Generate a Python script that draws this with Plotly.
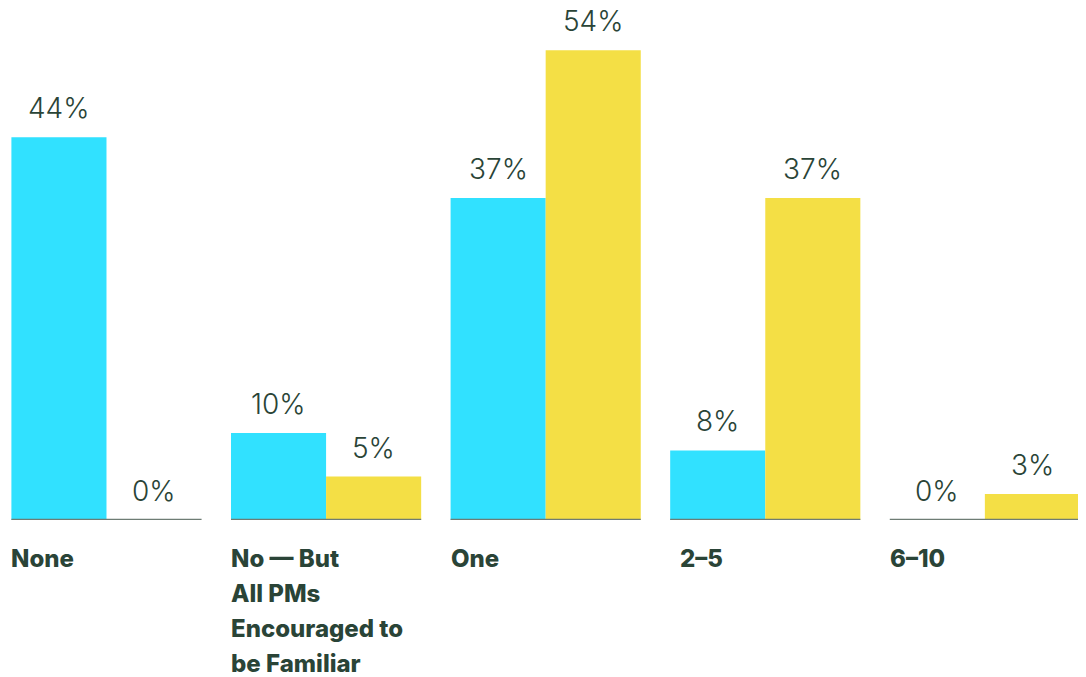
import plotly.graph_objects as go

categories = ["None", "No — But<br>All PMs<br>Encouraged to<br>be Familiar", "One", "2–5", "6–10"]
series_a = [44, 10, 37, 8, 0]
series_b = [0, 5, 54, 37, 3]

CYAN = "#31E1FF"
YELLOW = "#F4DF45"
TEXT = "#2A4437"
BASE = "#6E7C74"

n = len(categories)
idx = list(range(n))
bargap = 0.134
half = (1 - bargap) / 2

fig = go.Figure()
fig.add_bar(x=idx, y=series_a, marker=dict(color=CYAN, line=dict(width=0)), name="A")
fig.add_bar(x=idx, y=series_b, marker=dict(color=YELLOW, line=dict(width=0)), name="B")

# baselines per group
for i in idx:
    fig.add_shape(type="line", xref="x", yref="y", x0=i - half, x1=i + half, y0=0, y1=0,
                  line=dict(color=BASE, width=2.5))

# value labels
for vals, off in ((series_a, -half / 2), (series_b, half / 2)):
    for i, v in zip(idx, vals):
        fig.add_annotation(x=i + off, y=v, xref="x", yref="y", text=f"{v}%", showarrow=False,
                           yanchor="bottom", yshift=10,
                           font=dict(family="Inter", size=28, color=TEXT, weight=300))

# category labels
for i, c in zip(idx, categories):
    lines = c.split("<br>")
    xs = 10 if c == "2–5" else 0
    for k, ln in enumerate(lines):
        fig.add_annotation(x=i - half, y=0, xref="x", yref="y", text=ln, showarrow=False,
                           xanchor="left", yanchor="middle", xshift=xs - 2, yshift=-38 - 35 * k,
                           font=dict(family="Inter", size=24, color=TEXT, weight=800))

fig.update_layout(
    width=1086, height=677,
    margin=dict(l=0, r=0, t=0, b=165),
    paper_bgcolor="white", plot_bgcolor="white",
    barmode="group", bargap=bargap, bargroupgap=0,
    showlegend=False,
    xaxis=dict(range=[-0.4485, 4.497], showgrid=False, zeroline=False, showticklabels=False,
               showline=False, fixedrange=True),
    yaxis=dict(range=[0, 58.85], showgrid=False, zeroline=False, showticklabels=False,
               showline=False, fixedrange=True),
)
fig.write_html("out.html", config={"displayModeBar": False})
